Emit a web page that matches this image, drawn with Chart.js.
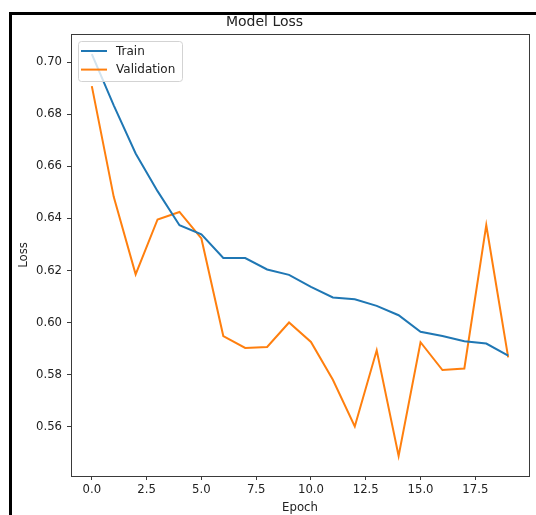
<!DOCTYPE html>
<html>
<head>
<meta charset="utf-8">
<script src="https://cdn.jsdelivr.net/npm/chart.js@4.4.1/dist/chart.umd.min.js"></script>
<style>
  html, body { margin: 0; padding: 0; background: #fff; }
  #wrap { position: relative; width: 536px; height: 515px; overflow: hidden; }
  #myChart { display: block; }
  #frame {
    position: absolute; left: 9px; top: 12px; width: 540px; height: 520px;
    border-left: 3px solid #000; border-top: 3px solid #000;
    box-sizing: border-box; pointer-events: none;
  }
</style>
</head>
<body>
<div id="wrap">
  <canvas id="myChart" width="536" height="515"></canvas>
  <div id="frame"></div>
</div>
<script>
const epochs = [0, 1, 2, 3, 4, 5, 6, 7, 8, 9, 10, 11, 12, 13, 14, 15, 16, 17, 18, 19];
const trainLoss = [0.7032, 0.6835, 0.6650, 0.6505, 0.6374, 0.6339, 0.6248, 0.6248, 0.6204, 0.6183,
                   0.6137, 0.6096, 0.6089, 0.6064, 0.6028, 0.5964, 0.5948, 0.5928, 0.5919, 0.5873];
const valLoss = [0.6909, 0.6483, 0.6185, 0.6396, 0.6425, 0.6323, 0.5948, 0.5902, 0.5906, 0.6000,
                 0.5925, 0.5780, 0.5600, 0.5893, 0.5487, 0.5924, 0.5817, 0.5823, 0.6374, 0.5866];
const xTicks = [0, 2.5, 5, 7.5, 10, 12.5, 15, 17.5];
const yTicks = [0.56, 0.58, 0.60, 0.62, 0.64, 0.66, 0.68, 0.70];

const FONT = '"DejaVu Sans", sans-serif';
const TEXT = '#222';
const SPINE = '#3a3a3a';

// matplotlib-style 5% margins
const allY = trainLoss.concat(valLoss);
const yLo = Math.min(...allY), yHi = Math.max(...allY);
const xLo = Math.min(...epochs), xHi = Math.max(...epochs);
const ym = (yHi - yLo) * 0.05, xm = (xHi - xLo) * 0.05;

// axes box (all four spines)
const frameBox = {
  id: 'frameBox',
  afterDraw(chart) {
    const {ctx, chartArea: a} = chart;
    ctx.save();
    ctx.strokeStyle = SPINE;
    ctx.lineWidth = 1;
    ctx.strokeRect(Math.round(a.left) + 0.5, Math.round(a.top) + 0.5,
                   Math.round(a.right - a.left), Math.round(a.bottom - a.top));
    ctx.restore();
  }
};

// legend drawn inside the axes, upper left
const innerLegend = {
  id: 'innerLegend',
  afterDatasetsDraw(chart) {
    const {ctx, chartArea: a} = chart;
    const x = Math.round(a.left) + 7, y = Math.round(a.top) + 7, w = 104, h = 40;
    ctx.save();
    ctx.fillStyle = 'rgba(255,255,255,0.8)';
    ctx.strokeStyle = '#d3d3d3';
    ctx.lineWidth = 1;
    ctx.beginPath();
    ctx.roundRect(x + 0.5, y + 0.5, w, h, 3);
    ctx.fill();
    ctx.stroke();
    ctx.font = '12px ' + FONT;
    ctx.textBaseline = 'middle';
    chart.data.datasets.forEach((ds, i) => {
      const ly = y + 10 + i * 18.6;
      ctx.strokeStyle = ds.borderColor;
      ctx.lineWidth = 2;
      ctx.beginPath();
      ctx.moveTo(x + 3, ly);
      ctx.lineTo(x + 29, ly);
      ctx.stroke();
      ctx.fillStyle = TEXT;
      ctx.fillText(ds.label, x + 38, ly + 0.5);
    });
    ctx.restore();
  }
};

const data = {
  datasets: [
    {
      label: 'Train',
      data: epochs.map((e, i) => ({x: e, y: trainLoss[i]})),
      borderColor: '#1f77b4',
      borderWidth: 2,
      pointRadius: 0,
      tension: 0,
      fill: false
    },
    {
      label: 'Validation',
      data: epochs.map((e, i) => ({x: e, y: valLoss[i]})),
      borderColor: '#ff7f0e',
      borderWidth: 2,
      pointRadius: 0,
      tension: 0,
      fill: false
    }
  ]
};

const config = {
  type: 'line',
  data,
  plugins: [frameBox, innerLegend],
  options: {
    responsive: false,
    animation: false,
    layout: { padding: { left: 0, right: 7, top: 0, bottom: 0 } },
    scales: {
      x: {
        type: 'linear',
        min: xLo - xm,
        max: xHi + xm,
        afterBuildTicks: (scale) => { scale.ticks = xTicks.map(v => ({value: v})); },
        afterFit: (scale) => { scale.height = 39; },
        border: { display: false },
        grid: { drawOnChartArea: false, drawTicks: true, tickLength: 4, color: SPINE },
        ticks: {
          padding: 3,
          color: TEXT,
          font: { family: FONT, size: 11.7 },
          maxRotation: 0,
          callback: (v) => Number(v).toFixed(1)
        },
        title: {
          display: true,
          text: 'Epoch',
          color: TEXT,
          font: { family: FONT, size: 11.7 },
          padding: { top: 0, bottom: 0 }
        }
      },
      y: {
        type: 'linear',
        min: yLo - ym,
        max: yHi + ym,
        afterBuildTicks: (scale) => { scale.ticks = yTicks.map(v => ({value: v})); },
        afterFit: (scale) => { scale.width = 71; },
        border: { display: false },
        grid: { drawOnChartArea: false, drawTicks: true, tickLength: 4, color: SPINE },
        ticks: {
          padding: 5,
          color: TEXT,
          font: { family: FONT, size: 11.7 },
          callback: (v) => Number(v).toFixed(2)
        },
        title: {
          display: true,
          text: 'Loss',
          color: TEXT,
          font: { family: FONT, size: 11.7 },
          padding: { top: 16.5, bottom: 0 }
        }
      }
    },
    plugins: {
      legend: { display: false },
      tooltip: { enabled: false },
      title: {
        display: true,
        text: 'Model Loss',
        color: TEXT,
        font: { family: FONT, size: 14, weight: 'normal' },
        padding: { top: 14, bottom: 3.2 }
      }
    }
  }
};

const myChart = new Chart(document.getElementById('myChart'), config);
</script>
</body>
</html>
